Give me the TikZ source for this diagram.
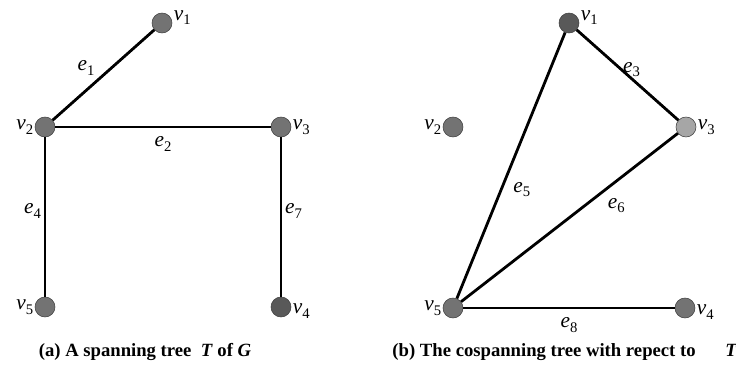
\documentclass[tikz,border=0pt]{standalone}
\usepackage{fontspec}
\setmainfont{Liberation Serif}
\usepackage{tikz}
\usetikzlibrary{positioning}

\newcommand{\lbl}[2]{\textit{#1}\raisebox{-0.22em}{\fontsize{11}{11}\selectfont #2}}

\begin{document}
\begin{tikzpicture}[
    x=0.75pt, y=-0.75pt,
    vert/.style={circle, draw=black!75, fill=black!55, minimum size=15pt, inner sep=0pt},
    light/.style={vert, fill=black!35},
    link/.style={line width=2.1pt},
    tag/.style={font=\fontsize{16}{18}\selectfont, inner sep=2pt},
    vtag/.style={font=\fontsize{16}{18}\selectfont, inner sep=1pt},
    captext/.style={font=\fontsize{14}{16}\selectfont\bfseries}
]
\useasboundingbox (0,0) rectangle (736,372);

% (a) Spanning tree T
\node[vert, label={[vtag, yshift=4pt]right:\lbl{v}{1}}] (a1) at (162,23) {};
\node[vert, label={[vtag]left:\lbl{v}{2}}] (a2) at (45,127) {};
\node[vert, label={[vtag]right:\lbl{v}{3}}] (a3) at (281,127) {};
\node[vert, fill=black!65, label={[vtag, yshift=-3pt]right:\lbl{v}{4}}] (a4) at (281,307) {};
\node[vert, label={[vtag]left:\lbl{v}{5}}] (a5) at (45,307) {};

\draw[link] (a2) -- node[tag, above left, pos=0.45] {\lbl{e}{1}} (a1);
\draw[link] (a2) -- node[tag, below=4pt] {\lbl{e}{2}} (a3);
\draw[link] (a2) -- node[tag, left, pos=0.46] {\lbl{e}{4}} (a5);
\draw[link] (a3) -- node[tag, right, pos=0.46] {\lbl{e}{7}} (a4);

\node[captext] (capA) at (145,352) {(a) A spanning tree\enspace\textit{T} of \textit{G}};

% (b) Cospanning tree
\node[vert, fill=black!65, label={[vtag, yshift=4pt]right:\lbl{v}{1}}] (b1) at (569,23) {};
\node[vert, label={[vtag]left:\lbl{v}{2}}] (b2) at (453,127) {};
\node[light, label={[vtag]right:\lbl{v}{3}}] (b3) at (686,127) {};
\node[vert, label={[vtag, yshift=-3pt]right:\lbl{v}{4}}] (b4) at (685,308) {};
\node[vert, label={[vtag]left:\lbl{v}{5}}] (b5) at (453,308) {};

\draw[link] (b1) -- node[tag, xshift=3pt, yshift=4pt] {\lbl{e}{3}} (b3);
\draw[link] (b1) -- node[tag, right=6pt, pos=0.59] {\lbl{e}{5}} (b5);
\draw[link] (b3) -- node[tag, below right=2pt, pos=0.35] {\lbl{e}{6}} (b5);
\draw[link] (b5) -- node[tag, below=4pt] {\lbl{e}{8}} (b4);

\node[captext] (capB) at (565,352) {(b) The cospanning tree with repect to\hspace{1.6em}\textit{T}};

\end{tikzpicture}
\end{document}
